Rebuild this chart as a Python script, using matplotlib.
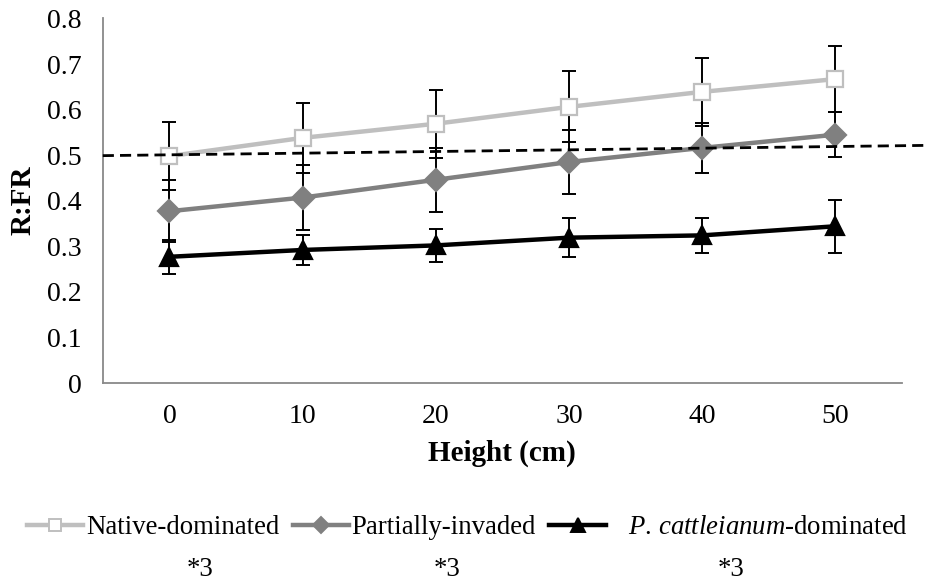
import matplotlib
matplotlib.use("Agg")
import matplotlib.pyplot as plt
from matplotlib.lines import Line2D
import numpy as np

plt.rcParams['font.family'] = ['Liberation Serif', 'DejaVu Serif']
plt.rcParams['mathtext.fontset'] = 'custom'
plt.rcParams['mathtext.rm'] = 'Liberation Serif'
plt.rcParams['mathtext.it'] = 'Liberation Serif:italic'

heights = ['0', '10', '20', '30', '40', '50']
native = [0.498, 0.538, 0.569, 0.606, 0.639, 0.667]
native_err = [0.075, 0.077, 0.075, 0.078, 0.075, 0.072]
partial = [0.377, 0.407, 0.446, 0.485, 0.516, 0.545]
partial_err = [0.068, 0.071, 0.070, 0.070, 0.055, 0.050]
pc = [0.277, 0.292, 0.302, 0.319, 0.324, 0.344]
pc_err = [0.037, 0.032, 0.036, 0.043, 0.039, 0.058]
ref_x = [-0.5, 5.68]
ref_y = [0.499, 0.5215]
labels = ['Native-dominated', 'Partially-invaded',
          r'   $\mathit{P.\,cattleianum}$-dominated']
notes = ['*3', '*3', '*3']

fig = plt.figure(figsize=(9.26, 5.87), dpi=100)
ax = fig.add_axes([0.111, 0.3475, 0.863, 0.621])
x = np.arange(len(heights))

series = [
    (native, native_err, '#BFBFBF', 's', 'white', '#BFBFBF', 12),
    (partial, partial_err, '#808080', 'D', '#808080', '#808080', 11),
    (pc, pc_err, 'black', '^', 'black', 'black', 13),
]
handles = []
for vals, errs, col, mk, fc, ec, ms in series:
    ax.errorbar(x, vals, yerr=errs, fmt='none', ecolor='black', elinewidth=1.4,
                capsize=5, capthick=1.4, zorder=2)
    ax.plot(x, vals, color=col, lw=3.2, marker=mk, markersize=ms,
            markerfacecolor=fc, markeredgecolor=ec, markeredgewidth=1.6, zorder=3)
    handles.append(Line2D([0], [0], color=col, lw=3.2, marker=mk, markersize=ms * 0.75,
                          markerfacecolor=fc, markeredgecolor=ec, markeredgewidth=1.4))

ax.plot(ref_x, ref_y, color='black', lw=2.0, ls=(0, (4, 2.2)), zorder=4, clip_on=False)

ax.set_xlim(-0.5, 5.5)
ax.set_ylim(0, 0.8)
ax.set_xticks(x)
ax.set_xticklabels(heights)
ax.set_yticks(np.arange(0, 0.81, 0.1))
ax.set_yticklabels(['0'] + ['%.1f' % v for v in np.arange(0.1, 0.81, 0.1)])
ax.tick_params(axis='both', length=0, labelsize=20)
ax.tick_params(axis='y', pad=15)
ax.tick_params(axis='x', pad=15)
for s in ['top', 'right']:
    ax.spines[s].set_visible(False)
for s in ['left', 'bottom']:
    ax.spines[s].set_color('#898989')
    ax.spines[s].set_linewidth(1.3)

ax.text(0.5, 1 - 453 / 587, 'Height (cm)', ha='center', va='center',
        fontsize=21, fontweight='bold',
        transform=matplotlib.transforms.blended_transform_factory(ax.transAxes, fig.transFigure))
fig.text(23 / 926, 1 - 200 / 587, 'R:FR', ha='center', va='center',
         fontsize=21, fontweight='bold', rotation=90)

fig.legend(handles, labels, loc='center', bbox_to_anchor=(0.505, 1 - 528 / 587),
           ncol=3, frameon=False, fontsize=19.3, handlelength=2.1, handletextpad=0.1,
           columnspacing=0.5, borderaxespad=0)

for nx, t in zip([200, 447, 731], notes):
    fig.text(nx / 926, 1 - 570 / 587, t, ha='center', va='center', fontsize=19.3)

fig.savefig('out.png', dpi=100)
